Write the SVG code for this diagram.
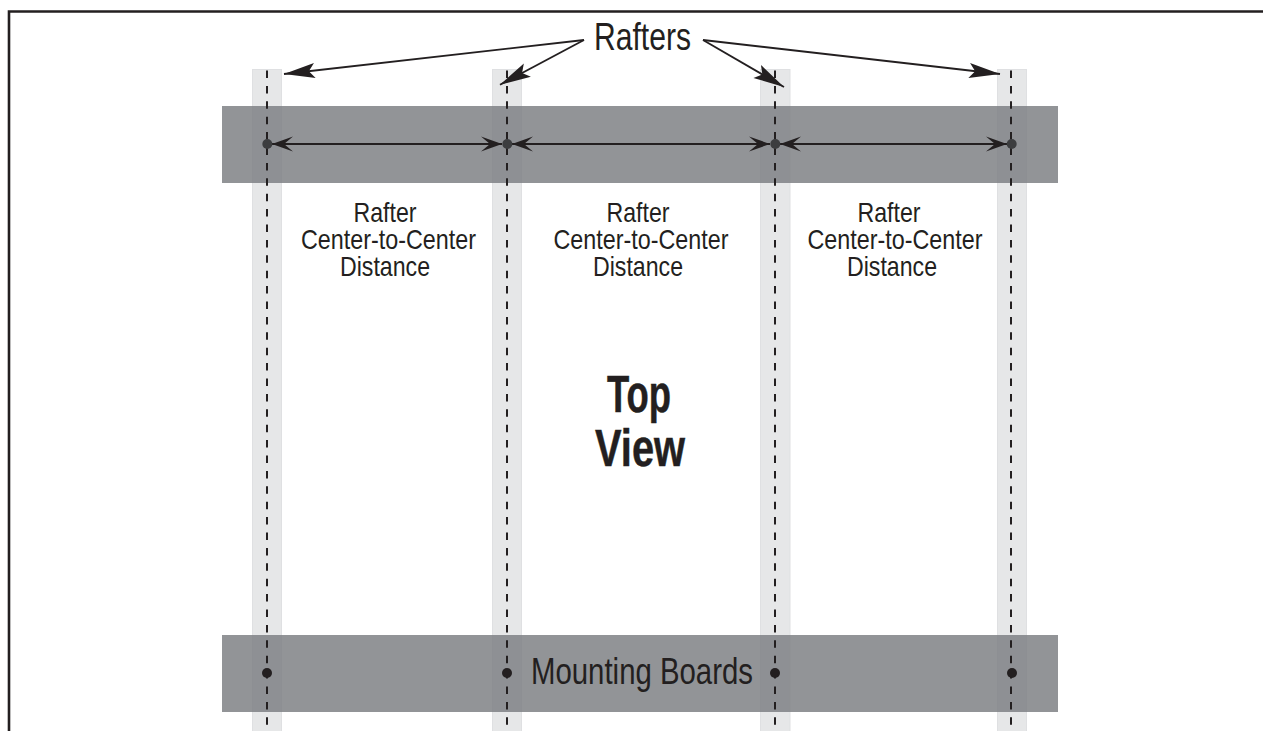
<svg xmlns="http://www.w3.org/2000/svg" width="1263" height="731" viewBox="0 0 1263 731">
  <style>
    text { font-family: "Liberation Sans", Arial, sans-serif; fill: #231f20; text-anchor: middle; }
    .rafter { fill: #e6e7e8; stroke: #dfe0e2; stroke-width: 1; }
    .board { fill: #7d8083; fill-opacity: .84; }
    .center { stroke: #231f20; stroke-width: 2; stroke-dasharray: 7.5 7.9; fill: none; }
    .dot { fill: #3c3d3f; }
    .pin { fill: #231f20; }
    .leader { stroke: #231f20; stroke-width: 1.8; fill: none; marker-end: url(#long); }
    .span { stroke: #231f20; stroke-width: 2; fill: none; marker-start: url(#shortS); marker-end: url(#short); }
    .lab { font-size: 28.5px; }
    .big { font-size: 51px; font-weight: 700; stroke: #231f20; stroke-width: .5; }
  </style>
  <defs>
    <marker id="long" markerUnits="userSpaceOnUse" markerWidth="34" markerHeight="18" refX="32" refY="8" orient="auto" overflow="visible">
      <path d="M32,8 L1,0.5 L7,8 L1,15.5 Z" fill="#231f20"/>
    </marker>
    <marker id="short" markerUnits="userSpaceOnUse" markerWidth="24" markerHeight="18" refX="22" refY="8" orient="auto" overflow="visible">
      <path d="M22,8 L1,0.5 L10,8 L1,15.5 Z" fill="#231f20"/>
    </marker>
    <marker id="shortS" markerUnits="userSpaceOnUse" markerWidth="24" markerHeight="18" refX="2" refY="8" orient="auto" overflow="visible">
      <path d="M2,8 L23,0.5 L14,8 L23,15.5 Z" fill="#231f20"/>
    </marker>
  </defs>
  <rect width="1263" height="731" fill="#fff"/>
  <path id="frame" d="M9,731 V11.5 H1263" fill="none" stroke="#231f20" stroke-width="2.6"/>

  <g id="rafters">
    <rect id="rafter-1" class="rafter" x="252.5" y="69.5" width="29" height="662"/>
    <rect id="rafter-2" class="rafter" x="492.5" y="69.5" width="29" height="662"/>
    <rect id="rafter-3" class="rafter" x="760.5" y="69.5" width="29.5" height="662"/>
    <rect id="rafter-4" class="rafter" x="997.5" y="69.5" width="29" height="662"/>
  </g>
  <g id="boards">
    <rect id="board-top" class="board" x="222" y="106" width="836" height="77"/>
    <rect id="board-bottom" class="board" x="222" y="635" width="836" height="77"/>
  </g>
  <g id="centerlines">
    <line class="center" x1="267" y1="70.5" x2="267" y2="731"/>
    <line class="center" x1="507" y1="70.5" x2="507" y2="731"/>
    <line class="center" x1="775" y1="70.5" x2="775" y2="731"/>
    <line class="center" x1="1011" y1="70.5" x2="1011" y2="731"/>
  </g>
  <g id="connectors">
    <line class="leader" x1="584" y1="40" x2="284" y2="74"/>
    <line class="leader" x1="584" y1="40" x2="500" y2="84.7"/>
    <line class="leader" x1="703" y1="40" x2="784" y2="87"/>
    <line class="leader" x1="703" y1="40" x2="1000" y2="74"/>
    <line class="span" x1="272" y1="144" x2="502" y2="144"/>
    <line class="span" x1="512" y1="144" x2="770" y2="144"/>
    <line class="span" x1="780" y1="144" x2="1007" y2="144"/>
  </g>
  <g id="dots-top">
    <circle class="dot" cx="267.3" cy="144" r="5"/>
    <circle class="dot" cx="507.3" cy="144" r="5"/>
    <circle class="dot" cx="775.3" cy="144" r="5"/>
    <circle class="dot" cx="1011.7" cy="144" r="5"/>
  </g>
  <g id="dots-bottom">
    <circle class="pin" cx="267" cy="673" r="5"/>
    <circle class="pin" cx="507" cy="673" r="5"/>
    <circle class="pin" cx="775" cy="673" r="5"/>
    <circle class="pin" cx="1012" cy="673" r="5"/>
  </g>
  <g id="labels">
    <text x="642.5" y="50" font-size="38" textLength="97" lengthAdjust="spacingAndGlyphs">Rafters</text>
    <text id="label-1" class="lab"><tspan x="385" y="222" textLength="63" lengthAdjust="spacingAndGlyphs">Rafter</tspan><tspan x="388.5" y="249" textLength="175" lengthAdjust="spacingAndGlyphs">Center-to-Center</tspan><tspan x="385" y="276" textLength="90" lengthAdjust="spacingAndGlyphs">Distance</tspan></text>
    <text id="label-2" class="lab"><tspan x="638" y="222" textLength="63" lengthAdjust="spacingAndGlyphs">Rafter</tspan><tspan x="641" y="249" textLength="175" lengthAdjust="spacingAndGlyphs">Center-to-Center</tspan><tspan x="638" y="276" textLength="90" lengthAdjust="spacingAndGlyphs">Distance</tspan></text>
    <text id="label-3" class="lab"><tspan x="889" y="222" textLength="63" lengthAdjust="spacingAndGlyphs">Rafter</tspan><tspan x="895" y="249" textLength="175" lengthAdjust="spacingAndGlyphs">Center-to-Center</tspan><tspan x="892" y="276" textLength="90" lengthAdjust="spacingAndGlyphs">Distance</tspan></text>
    <text class="big" x="639" y="412" textLength="64" lengthAdjust="spacingAndGlyphs">Top</text>
    <text class="big" x="640" y="466" textLength="90" lengthAdjust="spacingAndGlyphs">View</text>
    <text x="642" y="684" font-size="37" textLength="222" lengthAdjust="spacingAndGlyphs">Mounting Boards</text>
  </g>
</svg>
